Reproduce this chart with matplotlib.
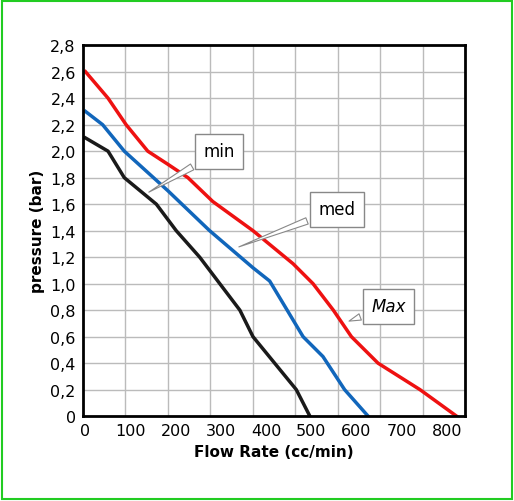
import matplotlib
matplotlib.use("Agg")
import matplotlib.pyplot as plt
import numpy as np
from matplotlib.patches import Rectangle

max_x = [0, 50, 90, 138, 183, 227, 282, 371, 460, 504, 549, 589, 648, 741, 822]
max_y = [2.6, 2.4, 2.2, 2.0, 1.9, 1.8, 1.62, 1.4, 1.15, 1.0, 0.8, 0.6, 0.4, 0.2, 0.0]
med_x = [0, 38, 86, 183, 275, 371, 408, 482, 526, 574, 626]
med_y = [2.3, 2.2, 2.0, 1.7, 1.4, 1.12, 1.02, 0.6, 0.45, 0.2, 0.0]
min_x = [0, 50, 86, 157, 201, 253, 342, 371, 467, 497]
min_y = [2.1, 2.0, 1.8, 1.6, 1.4, 1.2, 0.8, 0.6, 0.2, 0.0]
xticks = [0, 100, 200, 300, 400, 500, 600, 700, 800]
yticks = [0, 0.2, 0.4, 0.6, 0.8, 1.0, 1.2, 1.4, 1.6, 1.8, 2.0, 2.2, 2.4, 2.6, 2.8]

fig = plt.figure(figsize=(5.14, 5.02), dpi=100)
fig.patches.append(Rectangle((0.004, 0.004), 0.992, 0.992, transform=fig.transFigure,
                             fill=False, edgecolor="#22cc22", linewidth=1.5))
ax = fig.add_axes([0.161, 0.169, 0.744, 0.739])
xmin, xmax = -6, 841
ax.set_xlim(xmin, xmax)
ax.set_ylim(0, 2.8)
for g in np.linspace(xmin, xmax, 10)[1:-1]:
    ax.axvline(g, color="#bbbbbb", lw=1, zorder=0)
for g in yticks[1:-1]:
    ax.axhline(g, color="#bbbbbb", lw=1, zorder=0)

ax.plot(max_x, max_y, color="#ee1111", lw=2.5)
ax.plot(med_x, med_y, color="#1166bb", lw=2.5)
ax.plot(min_x, min_y, color="#1a1a1a", lw=2.5)

tf = dict(fontfamily="DejaVu Sans Condensed", fontsize=11.5)
ax.set_xticks(xticks)
ax.set_xticklabels([str(v) for v in xticks], **tf)
ax.set_yticks(yticks)
ax.set_yticklabels([f"{v:.1f}".replace(".", ",") if v else "0" for v in yticks], **tf)
ax.tick_params(length=0, pad=5)
for s in ax.spines.values():
    s.set_linewidth(2)
fnt = dict(fontfamily="DejaVu Sans Condensed", fontweight="bold")
ax.set_xlabel("Flow Rate (cc/min)", fontsize=11, **fnt)
ax.set_ylabel("pressure (bar)", fontsize=11, **fnt)

box = dict(boxstyle="square,pad=0.5", fc="white", ec="#888888", lw=1)
for txt, xy, xyt in [("min", (135, 1.68), (296, 2.0)),
                     ("med", (334, 1.27), (557, 1.56)),
                     ("Max", (578, 0.71), (672, 0.83))]:
    ax.annotate(txt, xy=xy, xytext=xyt, ha="center", va="center", fontsize=12,
                fontfamily="DejaVu Sans Condensed", fontstyle="italic" if txt == "Max" else "normal",
                bbox=box, arrowprops=dict(arrowstyle="wedge,tail_width=0.4", fc="white", ec="#888888", lw=0.8))
fig.savefig("out.png", dpi=100)
